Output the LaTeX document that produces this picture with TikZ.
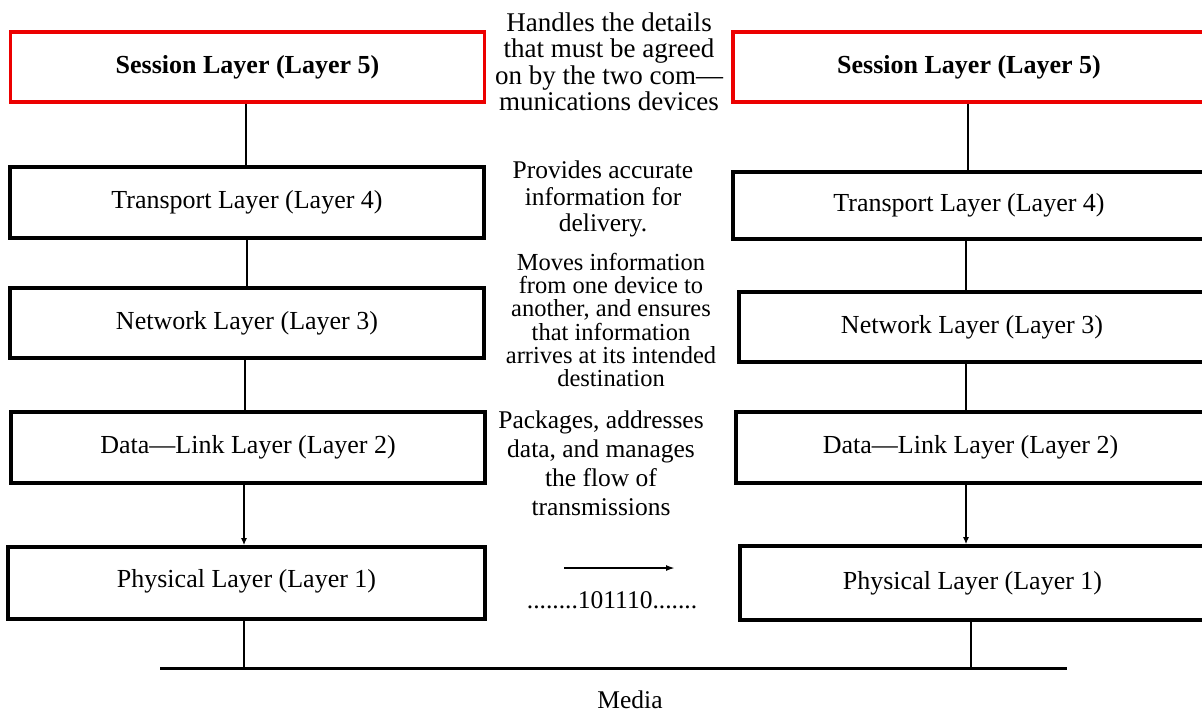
\documentclass[tikz,border=0pt]{standalone}
\usepackage{fontspec}
\setmainfont{Liberation Serif}
\usetikzlibrary{arrows.meta}

\definecolor{sessred}{RGB}{236,0,0}

\tikzset{
  layerbox/.style={draw=black, line width=3.6pt, rectangle, inner sep=0pt,
    minimum width=#1, font=\fontsize{26}{28}\selectfont},
  layerbox/.default=474pt,
  sessbox/.style={layerbox=#1, draw=sessred, line width=3.2pt,
    font=\fontsize{26}{28}\selectfont\bfseries},
  sessbox/.default=474pt,
  note/.style={align=center, inner sep=0pt, font=\fontsize{25.5}{#1}\selectfont},
  bignote/.style={align=center, inner sep=0pt, font=\fontsize{27}{#1}\selectfont},
  smallnote/.style={align=center, inner sep=0pt, font=\fontsize{24.5}{#1}\selectfont},
  link/.style={line width=1.9pt},
  linkarrow/.style={line width=1.9pt, -{Latex[length=7pt,width=6pt]}},
}

\begin{document}
\begin{tikzpicture}[x=1pt, y=-1pt]
\useasboundingbox (0,0) rectangle (1202,713);

% ---- left protocol stack ----
\node[sessbox, minimum height=70pt]  (s5L) at (247.5,67)  {Session Layer (Layer 5)};
\node[layerbox, minimum height=71pt] (t4L) at (247,202.5) {Transport Layer (Layer 4)};
\node[layerbox, minimum height=70pt] (n3L) at (247,323)   {\raisebox{3pt}{Network Layer (Layer 3)}};
\node[layerbox, minimum height=71pt] (d2L) at (248,447.5) {Data—Link Layer (Layer 2)};
\node[layerbox, minimum height=72pt, minimum width=477pt] (p1L) at (246.5,583) {\raisebox{10pt}{Physical Layer (Layer 1)}};

% ---- right protocol stack (runs off the right edge) ----
\node[sessbox=472pt, minimum height=70pt]  (s5R) at (969,67)    {\raisebox{4pt}{Session Layer (Layer 5)}};
\node[layerbox=472pt, minimum height=67pt] (t4R) at (969,205.5) {Transport Layer (Layer 4)};
\node[layerbox=466pt, minimum height=70pt] (n3R) at (972,327)   {Network Layer (Layer 3)};
\node[layerbox=469pt, minimum height=71pt] (d2R) at (970.5,447.5) {\raisebox{5pt}{Data—Link Layer (Layer 2)}};
\node[layerbox=465pt, minimum height=74pt] (p1R) at (972.5,583) {\raisebox{4pt}{Physical Layer (Layer 1)}};

% ---- vertical links inside each stack ----
\draw[link] ([xshift=-1.5pt]s5L.south) -- ([xshift=-1.5pt]s5L.south |- t4L.north);
\draw[link] (t4L.south) -- (t4L.south |- n3L.north);
\draw[link] ([xshift=-2pt]n3L.south) -- ([xshift=-2pt]n3L.south |- d2L.north);
\draw[linkarrow] ([xshift=-4pt]d2L.south) -- ([xshift=-4pt]d2L.south |- p1L.north);

\draw[link] ([xshift=-1pt]s5R.south) -- ([xshift=-1pt]s5R.south |- t4R.north);
\draw[link] ([xshift=-3pt]t4R.south) -- ([xshift=-3pt]t4R.south |- n3R.north);
\draw[link] ([xshift=-6pt]n3R.south) -- ([xshift=-6pt]n3R.south |- d2R.north);
\draw[linkarrow] ([xshift=-4.5pt]d2R.south) -- ([xshift=-4.5pt]d2R.south |- p1R.north);

% ---- shared medium ----
\coordinate (busL) at (160,668);
\coordinate (busR) at (1067,668);
\draw[line width=3pt] (busL) -- (busR);
\draw[link] ([xshift=-2.5pt]p1L.south) -- ([xshift=-2.5pt]p1L.south |- busL);
\draw[link] ([xshift=-1.5pt]p1R.south) -- ([xshift=-1.5pt]p1R.south |- busL);
\node[note=28] (media) at (630,700) {Media};

% ---- bit stream between the physical layers ----
\coordinate (bitS) at (564,568);
\coordinate (bitE) at (675,568);
\draw[line width=2pt, -{Latex[length=9pt,width=6pt]}] (bitS) -- (bitE);
\node[note=28] (bits) at (612,600) {........101110.......};

% ---- descriptions of each layer ----
\node[bignote=26.5] (d5) at (609,62)  {Handles the details\\that must be agreed\\on by the two com—\\munications devices};
\node[note=26.5]    (d4) at (603,199) {Provides accurate\\information for\\delivery.};
\node[smallnote=23.3] (d3) at (611,320) {Moves information\\from one device to\\another, and ensures\\that information\\arrives at its intended\\destination};
\node[note=29]      (d2) at (601,463) {Packages, addresses\\data, and manages\\the flow of\\transmissions};
\end{tikzpicture}
\end{document}
